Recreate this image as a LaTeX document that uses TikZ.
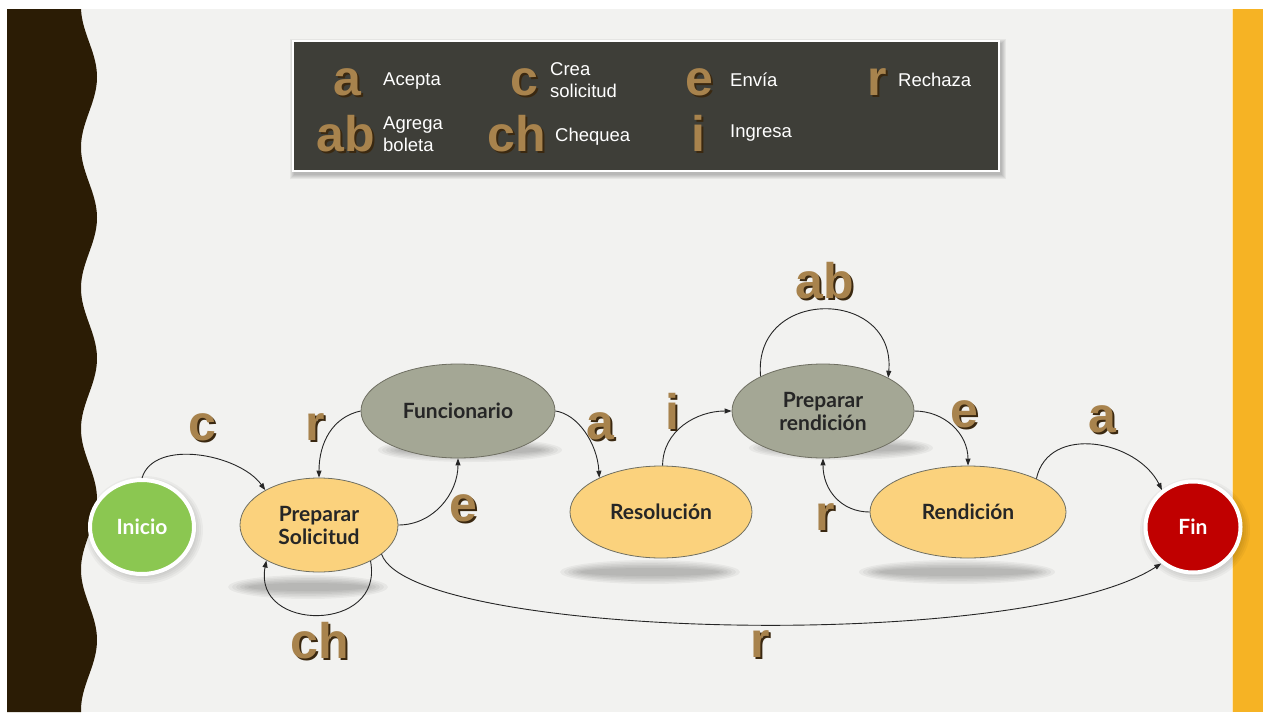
\documentclass[tikz,border=0pt]{standalone}
\usepackage{fontspec}
\setmainfont{Liberation Sans}
\newfontfamily\nodefont{Lato}
\newfontfamily\fancyfont{Liberation Sans}
\usetikzlibrary{arrows.meta,shapes.geometric}
\definecolor{slidebg}{HTML}{F2F2F0}
\definecolor{bandbrown}{HTML}{2B1C05}
\definecolor{bandorange}{HTML}{F6B324}
\definecolor{legendbg}{HTML}{3E3E38}
\definecolor{yfill}{HTML}{FBD27D}
\definecolor{gfill}{HTML}{A4A795}
\definecolor{ringline}{HTML}{6F6F62}
\definecolor{startgreen}{HTML}{8BC751}
\definecolor{endred}{HTML}{C00000}
\definecolor{gold}{HTML}{A8834D}
\definecolor{goldshadow}{HTML}{3A2810}
\newcommand{\fl}[1]{\makebox[0pt][l]{\hspace{2pt}\raisebox{-2pt}{\textcolor{goldshadow}{#1}}}#1}
\begin{document}
\begin{tikzpicture}[x=1pt,y=-1pt,
  state/.style={ellipse, draw=ringline, line width=0.8pt, inner sep=0pt, align=center,
    font=\nodefont\bfseries\fontsize{21}{23}\selectfont, text=black!85},
  ystate/.style={state, fill=yfill},
  gstate/.style={state, fill=gfill},
  term/.style={ellipse, draw=white, line width=4pt, inner sep=0pt, text=white,
    font=\nodefont\bfseries\fontsize{21}{23}\selectfont},
  conn/.style={draw=black!85, line width=0.9pt, -{Triangle[length=7pt,width=5pt]}},
  lbl/.style={font=\fancyfont\bfseries\fontsize{50}{50}\selectfont, text=gold, inner sep=0pt},
  ltext/.style={font=\fontsize{18.5}{22.5}\selectfont, text=white, align=left, anchor=west, inner sep=0pt},
]
\useasboundingbox (0,0) rectangle (1263,712);
\fill[white] (0,0) rectangle (1263,712);
\fill[slidebg] (7,9) rectangle (1263,712);
\fill[bandorange] (1233,9) rectangle (1263,712);
\draw[white!70!bandorange, line width=1pt] (1232.5,9) -- (1232.5,712);
\fill[bandbrown] (7,9) -- plot[domain=9:712,samples=240,variable=\t] ({89+8*cos((\t-77)*2.5577)},\t) -- (7,712) -- cycle;

% legend
\foreach \k in {1,...,5}
  \fill[black, opacity=0.05] (295-\k,44-\k) rectangle (1001+\k,174+\k);
\fill[legendbg, draw=white, line width=2.5pt] (293,41) rectangle (999,171);
\node[lbl] (ka) at (347,83) {\fl{a}};
\node[ltext] (ta) at (383,81) {Acepta};
\node[lbl] (kc) at (524,83) {\fl{c}};
\node[ltext] (tc) at (550,80) {Crea\\solicitud};
\node[lbl] (ke) at (699,83) {\fl{e}};
\node[ltext] (te) at (730,80) {Envía};
\node[lbl] (kr) at (877,83) {\fl{r}};
\node[ltext] (tr) at (898,80) {Rechaza};
\node[lbl] (kab) at (346,135) {\fl{ab}};
\node[ltext] (tab) at (383,134) {Agrega\\boleta};
\node[lbl] (kch) at (517,135) {\fl{ch}};
\node[ltext] (tch) at (555,137) {Chequea};
\node[lbl] (ki) at (698,134) {\fl{i}};
\node[ltext] (ti) at (730,133) {Ingresa};

% shadows
\foreach \cx/\cy/\rx in {308/587/80, 470/450/92, 650/572/90, 841/448/92, 957/572/98}{
  \foreach \k in {0,...,5}
    \fill[black,opacity=0.045] (\cx,\cy) ellipse ({(\rx-4*\k)*1pt} and {(12-1.6*\k)*1pt});
}
\foreach \k in {0,...,4}{
  \fill[black,opacity=0.035] (144,530) ellipse ({(59-2*\k)*1pt} and {(54-2*\k)*1pt});
  \fill[black,opacity=0.035] (1195,530) ellipse ({(55-2*\k)*1pt} and {(52-2*\k)*1pt});
}

% states
\node[term, fill=startgreen, minimum width=104pt, minimum height=94pt] (ini) at (142,527) {Inicio};
\node[term, fill=endred, minimum width=95pt, minimum height=91pt] (fin) at (1193,527) {Fin};
\node[ystate, minimum width=158pt, minimum height=94pt] (ps) at (319,525) {Preparar\\Solicitud};
\node[gstate, minimum width=194pt, minimum height=94pt] (fun) at (458,411) {Funcionario};
\node[ystate, minimum width=182pt, minimum height=92pt] (res) at (661,512) {Resolución};
\node[gstate, minimum width=182pt, minimum height=94pt] (prr) at (823,411) {Preparar\\rendición};
\node[ystate, minimum width=196pt, minimum height=92pt] (ren) at (968,512) {Rendición};

% connectors
\draw[conn] (ini.90) .. controls +(12,-40) and +(-26,-36) .. (ps.147);
\draw[conn] (fun.180) .. controls +(-28,6) and +(0,-35) .. (ps.90);
\draw[conn] (ps.0) .. controls +(35,0) and +(0,35) .. (fun.270);
\draw[conn] (ps.-35) .. controls +(14,72) and +(-14,72) .. (ps.214);
\draw[conn] (ps.-25) .. controls +(30,85) and +(-140,90) .. (fin.229);
\draw[conn] (fun.0) .. controls +(22,3) and +(-2,-35) .. (res.151);
\draw[conn] (res.88) .. controls +(0,-35) and +(-35,0) .. (prr.180);
\draw[conn] (prr.151) .. controls +(-8,-90) and +(8,-90) .. (prr.27);
\draw[conn] (prr.0) .. controls +(30,0) and +(0,-32) .. (ren.90);
\draw[conn] (ren.180) .. controls +(-28,0) and +(0,32) .. (prr.270);
\draw[conn] (ren.26) .. controls +(12,-55) and +(-25,-50) .. (fin.130);

% labels
\node[lbl] (lc) at (202,428) {\fl{c}};
\node[lbl] (lr1) at (315,428) {\fl{r}};
\node[lbl] (le1) at (463,509) {\fl{e}};
\node[lbl] (lch) at (320,642) {\fl{ch}};
\node[lbl] (lr2) at (760,645) {\fl{r}};
\node[lbl] (la1) at (600,427) {\fl{a}};
\node[lbl] (li) at (672,412) {\fl{i}};
\node[lbl] (lab) at (825,282) {\fl{ab}};
\node[lbl] (le2) at (964,415) {\fl{e}};
\node[lbl] (lr3) at (825,518) {\fl{r}};
\node[lbl] (la2) at (1102,420) {\fl{a}};
\end{tikzpicture}
\end{document}
